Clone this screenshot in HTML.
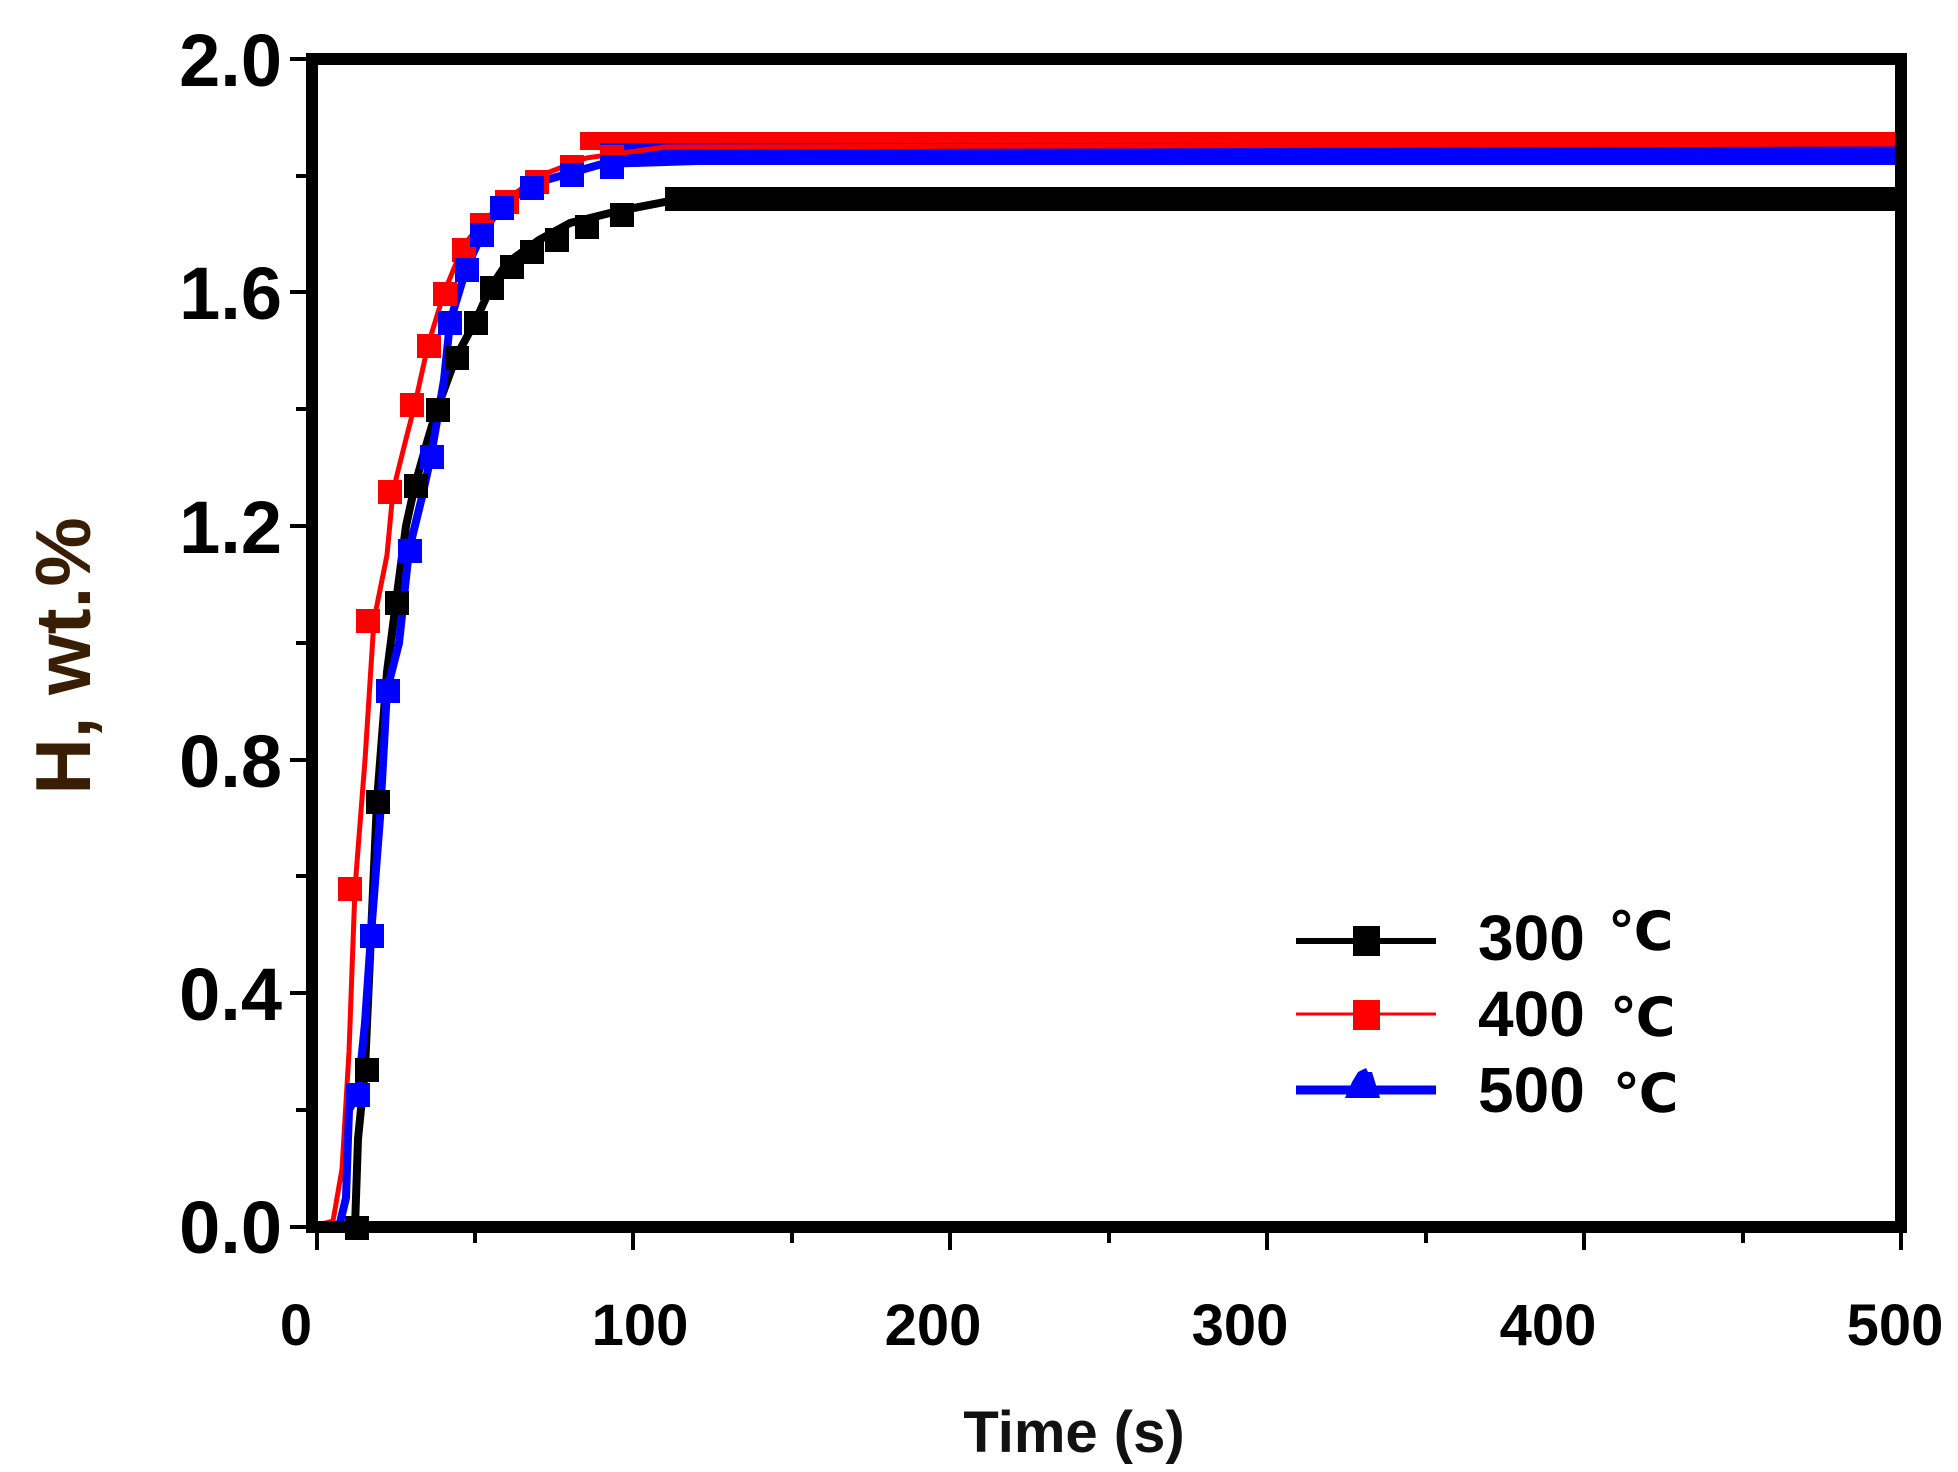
<!DOCTYPE html>
<html><head><meta charset="utf-8"><style>
html,body{margin:0;padding:0;background:#fff;}
svg{display:block;}
text{font-family:"Liberation Sans","DejaVu Sans",sans-serif;font-weight:bold;}
</style></head><body>
<svg width="1958" height="1472" viewBox="0 0 1958 1472" xmlns="http://www.w3.org/2000/svg">
<!-- plateau bands -->
<rect x="580" y="132" width="1321" height="18" fill="#ff0000"/>
<rect x="600" y="143" width="1301" height="22" fill="#0000ff"/>
<rect x="665" y="187" width="1236" height="24" fill="#000"/>
<!-- 300 -->
<polyline fill="none" stroke="#000" stroke-width="8" points="318,1227 355,1227 358,1139 365,1069 371,935 377,801 387,672 396,602 406,526 415,485 428,439 437,409 456,357 475,322 491,287 507,263 539,240 570,223 618,211 665,202 856,196 1901,196"/>
<!-- 400 -->
<polyline fill="none" stroke="#ff0000" stroke-width="5" points="318,1225 333,1221 342,1169 349,1052 355,888 365,760 374,620 387,555 393,491 406,439 415,404 428,345 444,293 463,246 482,223 507,199 539,176 586,158 665,147 1901,144"/>
<!-- 500 -->
<polyline fill="none" stroke="#0000ff" stroke-width="8" points="330,1227 339,1227 346,1198 349,1110 358,1093 365,1023 371,935 380,818 387,690 399,643 409,550 422,497 431,456 444,380 450,322 466,269 482,234 501,205 539,182 602,164 887,155 1901,152"/>
<!-- markers 300 -->
<g fill="#000">
<rect x="345" y="1216" width="24" height="24"/><rect x="355" y="1058" width="24" height="24"/><rect x="366" y="790" width="24" height="24"/><rect x="385" y="591" width="24" height="24"/><rect x="404" y="474" width="24" height="24"/><rect x="426" y="398" width="24" height="24"/><rect x="445" y="346" width="24" height="24"/><rect x="464" y="311" width="24" height="24"/><rect x="480" y="276" width="24" height="24"/><rect x="500" y="255" width="24" height="24"/><rect x="520" y="240" width="24" height="24"/><rect x="545" y="228" width="24" height="24"/><rect x="575" y="215" width="24" height="24"/><rect x="610" y="203" width="24" height="24"/>
</g>
<!-- markers 400 -->
<g fill="#ff0000">
<rect x="338" y="877" width="24" height="24"/><rect x="356" y="609" width="24" height="24"/><rect x="378" y="480" width="24" height="24"/><rect x="400" y="393" width="24" height="24"/><rect x="417" y="334" width="24" height="24"/><rect x="433" y="282" width="24" height="24"/><rect x="452" y="238" width="24" height="24"/><rect x="470" y="213" width="24" height="24"/><rect x="495" y="190" width="24" height="24"/><rect x="525" y="170" width="24" height="24"/><rect x="560" y="155" width="24" height="24"/><rect x="600" y="145" width="24" height="24"/>
</g>
<!-- markers 500 -->
<g fill="#0000ff">
<rect x="346" y="1083" width="24" height="24"/><rect x="360" y="924" width="24" height="24"/><rect x="376" y="679" width="24" height="24"/><rect x="398" y="539" width="24" height="24"/><rect x="420" y="445" width="24" height="24"/><rect x="438" y="311" width="24" height="24"/><rect x="455" y="258" width="24" height="24"/><rect x="470" y="223" width="24" height="24"/><rect x="490" y="196" width="24" height="24"/><rect x="520" y="176" width="24" height="24"/><rect x="560" y="163" width="24" height="24"/><rect x="600" y="155" width="24" height="24"/>
</g>
<!-- frame -->
<rect x="312" y="59" width="1589" height="1168" fill="none" stroke="#000" stroke-width="12"/>
<!-- ticks -->
<g stroke="#000" stroke-width="4">
<line x1="290" y1="1227" x2="306" y2="1227"/><line x1="296" y1="1110" x2="306" y2="1110"/>
<line x1="290" y1="993" x2="306" y2="993"/><line x1="296" y1="876" x2="306" y2="876"/>
<line x1="290" y1="760" x2="306" y2="760"/><line x1="296" y1="643" x2="306" y2="643"/>
<line x1="290" y1="526" x2="306" y2="526"/><line x1="296" y1="409" x2="306" y2="409"/>
<line x1="290" y1="292" x2="306" y2="292"/><line x1="296" y1="176" x2="306" y2="176"/>
<line x1="290" y1="59" x2="306" y2="59"/>
<line x1="317" y1="1233" x2="317" y2="1250"/><line x1="475" y1="1233" x2="475" y2="1243"/>
<line x1="633" y1="1233" x2="633" y2="1250"/><line x1="792" y1="1233" x2="792" y2="1243"/>
<line x1="950" y1="1233" x2="950" y2="1250"/><line x1="1109" y1="1233" x2="1109" y2="1243"/>
<line x1="1267" y1="1233" x2="1267" y2="1250"/><line x1="1426" y1="1233" x2="1426" y2="1243"/>
<line x1="1584" y1="1233" x2="1584" y2="1250"/><line x1="1743" y1="1233" x2="1743" y2="1243"/>
<line x1="1901" y1="1233" x2="1901" y2="1250"/>
</g>
<!-- y labels -->
<g font-size="74" text-anchor="end" fill="#000">
<text x="282" y="1253">0.0</text>
<text x="282" y="1020">0.4</text>
<text x="282" y="787">0.8</text>
<text x="282" y="553">1.2</text>
<text x="282" y="319">1.6</text>
<text x="282" y="86">2.0</text>
</g>
<!-- x labels -->
<g font-size="58" text-anchor="middle" fill="#000">
<text x="296" y="1345">0</text>
<text x="640" y="1345">100</text>
<text x="933" y="1345">200</text>
<text x="1240" y="1345">300</text>
<text x="1548" y="1345">400</text>
<text x="1895" y="1345">500</text>
</g>
<text x="1074" y="1452" font-size="58" text-anchor="middle" fill="#111">Time  (s)</text>
<text transform="translate(90,656) rotate(-90)" font-size="78" text-anchor="middle" fill="#3a1d05">H, wt.%</text>
<!-- legend -->
<line x1="1296" y1="941" x2="1436" y2="941" stroke="#000" stroke-width="6"/>
<rect x="1353" y="926" width="27" height="30" fill="#000"/>
<line x1="1296" y1="1014" x2="1436" y2="1014" stroke="#ff0000" stroke-width="3"/>
<rect x="1353" y="1000" width="27" height="30" fill="#ff0000"/>
<line x1="1296" y1="1090" x2="1436" y2="1090" stroke="#0000ff" stroke-width="9"/>
<polygon points="1345,1098 1380,1098 1372,1072 1368,1072 1366,1068 1358,1072 1352,1082" fill="#0000ff"/>
<g font-size="64" fill="#000">
<text x="1478" y="960">300</text>
<text x="1478" y="1036">400</text>
<text x="1478" y="1112">500</text>
</g>
<g font-size="54" fill="#000" style="font-weight:normal;font-family:'DejaVu Sans','Noto Sans CJK SC',sans-serif">
<text x="1608" y="950">℃</text>
<text x="1610" y="1036">℃</text>
<text x="1613" y="1112">℃</text>
</g>
</svg>
</body></html>
